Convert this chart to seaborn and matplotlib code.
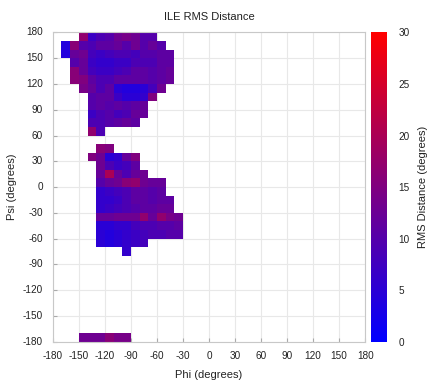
import numpy as np
import pandas as pd
import matplotlib
matplotlib.use("Agg")
import matplotlib.pyplot as plt
import seaborn as sns
from matplotlib.colors import LinearSegmentedColormap

# 10-degree bins of backbone dihedrals
phi_bins = np.arange(-180, 180, 10)
psi_bins = np.arange(-180, 180, 10)

# Each populated psi row: lower bin edge, first phi bin, and RMS values (degrees)
row_psi = [170, 160, 150, 140, 130, 120, 110, 100, 90, 80, 70, 60,
           40, 30, 20, 10, 0, -10, -20, -30, -40, -50, -60, -70, -80, -180]
row_phi_start = [-150, -170, -170, -160, -160, -160, -150, -140, -140, -140, -140, -140,
                 -130, -140, -130, -130, -130, -130, -130, -130, -130, -130, -130, -130, -100, -150]
row_rms = [
    [17, 7, 9, 10, 13, 14, 13, 10, 10],
    [4, 16, 10, 9, 11, 11, 12, 10, 13, 10, 12, 10],
    [4, 12, 13, 8, 7, 8, 9, 9, 8, 10, 10, 11, 11],
    [10, 12, 7, 6, 6, 7, 7, 9, 9, 9, 11, 11],
    [16, 12, 8, 7, 7, 8, 9, 11, 11, 10, 11, 12],
    [16, 15, 11, 9, 9, 11, 11, 11, 11, 10, 11, 12],
    [14, 12, 9, 11, 5, 4, 4, 5, 8, 13],
    [10, 11, 11, 7, 5, 5, 6, 15],
    [10, 11, 10, 11, 10, 11, 12],
    [7, 9, 10, 8, 9, 12, 12],
    [9, 9, 10, 11, 12, 11],
    [17, 9],
    [16, 15],
    [15, 13, 5, 6, 12, 15],
    [13, 9, 7, 8, 11],
    [12, 20, 12, 9, 12, 13],
    [10, 12, 13, 16, 17, 13, 12, 12],
    [6, 7, 8, 9, 11, 11, 10, 11],
    [6, 6, 7, 9, 11, 11, 10, 11, 11],
    [6, 7, 8, 9, 10, 11, 11, 12, 12],
    [12, 12, 13, 13, 13, 17, 12, 17, 14, 13],
    [5, 5, 6, 6, 8, 9, 9, 10, 10, 11],
    [5, 4, 5, 6, 7, 8, 9, 9, 10, 10],
    [5, 4, 5, 6, 7, 8],
    [6],
    [13, 13, 13, 16, 14, 14],
]

tick_values = np.arange(-180, 181, 30)

grid = np.full((len(psi_bins), len(phi_bins)), np.nan)
for psi, start, vals in zip(row_psi, row_phi_start, row_rms):
    i = int(np.where(psi_bins == psi)[0][0])
    j = int(np.where(phi_bins == start)[0][0])
    grid[i, j:j + len(vals)] = vals

# top row of the map is the highest psi bin
df = pd.DataFrame(grid[::-1], index=psi_bins[::-1], columns=phi_bins)

plt.rcParams["font.family"] = ["Liberation Sans", "DejaVu Sans"]
text_color = "#222222"

cmap = LinearSegmentedColormap.from_list("blue_red", ["#0000ff", "#ff0000"])

fig = plt.figure(figsize=(4.4, 3.89), dpi=100)
ax = fig.add_axes([0.12, 0.1216, 0.71, 0.795])
cax = fig.add_axes([0.843, 0.1216, 0.037, 0.795])

sns.heatmap(df, cmap=cmap, vmin=0, vmax=30, ax=ax, cbar_ax=cax,
            cbar_kws={"ticks": np.arange(0, 31, 5)})

n = len(phi_bins)
pos = np.arange(0, n + 1, 3)
ax.set_xticks(pos)
ax.set_xticklabels([str(v) for v in tick_values], rotation=0)
ax.set_yticks(pos)
ax.set_yticklabels([str(v) for v in tick_values[::-1]], rotation=0)
ax.set_xlim(0, n)
ax.set_ylim(n, 0)

ax.grid(True, color="#e8e8e8", linewidth=0.8)
ax.set_axisbelow(True)
for s in ax.spines.values():
    s.set_visible(True)
    s.set_color("#c8c8c8")
    s.set_linewidth(0.8)

ax.tick_params(axis="both", direction="in", length=3, color="#aaaaaa",
               labelsize=7.2, labelcolor=text_color, pad=7)

ax.set_title("ILE RMS Distance", fontsize=8, color=text_color, pad=9)
ax.set_xlabel("Phi (degrees)", fontsize=8, color=text_color, labelpad=6)
ax.set_ylabel("Psi (degrees)", fontsize=8, color=text_color, labelpad=4)

cbar = ax.collections[0].colorbar
cbar.outline.set_visible(False)
cax.tick_params(length=0, labelsize=7.2, labelcolor=text_color, pad=8)
cbar.set_label("RMS Distance (degrees)", fontsize=8, color=text_color, labelpad=6)

fig.savefig("out.png", dpi=100)
